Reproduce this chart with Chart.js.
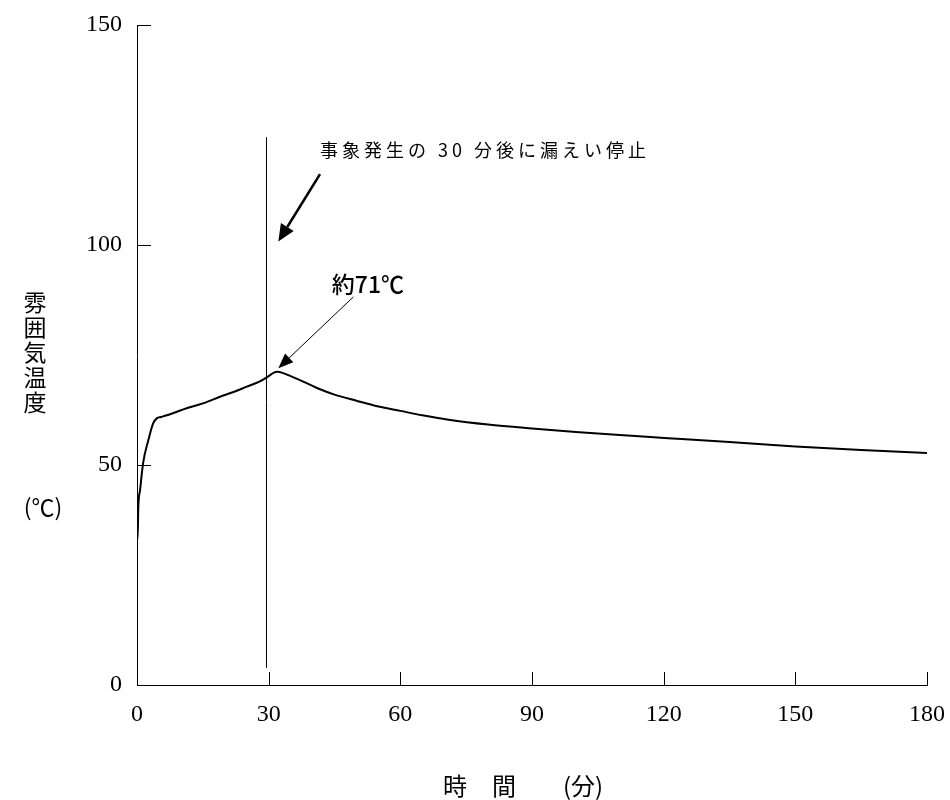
<!DOCTYPE html>
<html>
<head>
<meta charset="utf-8">
<script src="https://cdn.jsdelivr.net/npm/chart.js@4.4.1/dist/chart.umd.min.js"></script>
<style>
  html, body { margin: 0; padding: 0; background: #fff; }
  canvas { display: block; }
</style>
</head>
<body>
<canvas id="c" width="950" height="800"></canvas>
<script>
// ---- data ----
const timeMin = [0, 0.1, 0.2, 0.3, 0.7, 1.4, 2.6, 3.7, 4.5, 5.5, 8, 11.3, 15, 18.9, 22, 25, 28, 30, 31, 32, 33, 35, 38, 41, 45, 50, 55, 60, 65, 71, 80, 90, 100, 110, 121, 135, 150, 165, 180];
const tempC   = [40.5, 33.2, 36, 40.5, 44.3, 50.5, 55.7, 59.5, 60.6, 60.9, 61.7, 62.9, 64, 65.5, 66.6, 67.8, 69, 70.2, 70.9, 71.2, 71, 70.2, 68.9, 67.5, 66, 64.6, 63.3, 62.3, 61.3, 60.3, 59.2, 58.3, 57.5, 56.8, 56.1, 55.2, 54.2, 53.4, 52.7];
const xTicks = [0, 30, 60, 90, 120, 150, 180];
const yTicks = [0, 50, 100, 150];
const stopLineX = [29.5, 29.5];
const stopLineY = [3.9, 124.5];
const yTitleChars = ['雰', '囲', '気', '温', '度'];
const yUnit = '(℃)';
const xTitle = ['時', '間', '(分)'];
const noteText = '事象発生の 30 分後に漏えい停止';
const peakText = '約71℃';
// annotation anchors in data units [x, y]
const noteAnchor = [41.7, 121.5];
const arrow1 = [[41.7, 116.1], [32.2, 100.8]];
const arrow2 = [[49.3, 88.2], [32.2, 72.0]];
const peakAnchor = [44.4, 89.0];

const serif = '"Liberation Serif", "DejaVu Serif", serif';
const cjk = '"Noto Sans CJK JP", "Noto Sans", sans-serif';

function arrow(ctx, x1, y1, x2, y2, lw, hl, hw) {
  const a = Math.atan2(y2 - y1, x2 - x1);
  const bx = x2 - hl * Math.cos(a), by = y2 - hl * Math.sin(a);
  ctx.save();
  ctx.strokeStyle = '#000'; ctx.fillStyle = '#000'; ctx.lineWidth = lw;
  ctx.beginPath(); ctx.moveTo(x1, y1); ctx.lineTo(bx, by); ctx.stroke();
  ctx.beginPath();
  ctx.moveTo(x2, y2);
  ctx.lineTo(bx + hw * Math.sin(a), by - hw * Math.cos(a));
  ctx.lineTo(bx - hw * Math.sin(a), by + hw * Math.cos(a));
  ctx.closePath(); ctx.fill();
  ctx.restore();
}

const decor = {
  id: 'decor',
  afterDraw(chart) {
    const ctx = chart.ctx, xs = chart.scales.x, ys = chart.scales.y;
    const X = v => xs.getPixelForValue(v), Y = v => ys.getPixelForValue(v);
    ctx.save();
    // inward tick marks
    ctx.strokeStyle = '#000'; ctx.lineWidth = 1;
    ctx.beginPath();
    yTicks.forEach(v => { if (v > 0) { const p = Math.round(Y(v)) + 0.5; ctx.moveTo(X(0), p); ctx.lineTo(X(0) + 14, p); } });
    xTicks.forEach(v => { if (v > 0) { const p = Math.round(X(v)) + 0.5; ctx.moveTo(p, Y(0)); ctx.lineTo(p, Y(0) - 13); } });
    ctx.stroke();
    // arrows
    arrow(ctx, X(arrow1[0][0]), Y(arrow1[0][1]), X(arrow1[1][0]), Y(arrow1[1][1]), 2.5, 17, 7.5);
    arrow(ctx, X(arrow2[0][0]), Y(arrow2[0][1]), X(arrow2[1][0]), Y(arrow2[1][1]), 1, 15, 6);
    // note text
    ctx.fillStyle = '#000';
    ctx.font = '18px ' + cjk;
    ctx.textBaseline = 'middle'; ctx.textAlign = 'left';
    ctx.letterSpacing = '4px';
    ctx.fillText(noteText, X(noteAnchor[0]), Y(noteAnchor[1]));
    ctx.letterSpacing = '0px';
    // peak label
    ctx.font = '500 23px ' + cjk;
    ctx.textBaseline = 'alphabetic';
    ctx.fillText(peakText, X(peakAnchor[0]), Y(peakAnchor[1]));
    // y title (vertical)
    ctx.font = '23px ' + cjk;
    ctx.textAlign = 'center'; ctx.textBaseline = 'middle';
    yTitleChars.forEach((ch, i) => ctx.fillText(ch, 35, 302 + i * 25));
    ctx.fillText(yUnit, 43, 507);
    // x title
    ctx.font = '24px ' + cjk;
    ctx.fillText(xTitle[0], 455, 786);
    ctx.fillText(xTitle[1], 504, 786);
    ctx.fillText(xTitle[2], 583, 786);
    ctx.restore();
  }
};

new Chart(document.getElementById('c'), {
  type: 'scatter',
  data: {
    datasets: [
      {
        data: timeMin.map((t, i) => ({ x: t, y: tempC[i] })),
        showLine: true, borderColor: '#000', borderWidth: 2, pointRadius: 0,
        cubicInterpolationMode: 'monotone', fill: false
      },
      {
        data: stopLineX.map((t, i) => ({ x: t, y: stopLineY[i] })),
        showLine: true, borderColor: '#000', borderWidth: 1, pointRadius: 0, fill: false
      }
    ]
  },
  options: {
    responsive: false, animation: false,
    layout: { padding: { left: 0, top: 25, right: 23, bottom: 0 } },
    plugins: { legend: { display: false }, tooltip: { enabled: false } },
    scales: {
      x: {
        type: 'linear', min: 0, max: 180,
        afterBuildTicks: s => { s.ticks = xTicks.map(v => ({ value: v })); },
        afterFit: s => { s.height = 115; s.paddingLeft = 0; s.paddingRight = 0; },
        grid: { display: false, drawTicks: false },
        border: { display: true, color: '#000', width: 1 },
        ticks: { color: '#000', font: { family: serif, size: 24 }, padding: 15, maxRotation: 0 }
      },
      y: {
        type: 'linear', min: 0, max: 150,
        afterBuildTicks: s => { s.ticks = yTicks.map(v => ({ value: v })); },
        afterFit: s => { s.width = 137; s.paddingTop = 0; s.paddingBottom = 0; },
        grid: { display: false, drawTicks: false },
        border: { display: true, color: '#000', width: 1 },
        ticks: { color: '#000', font: { family: serif, size: 24 }, padding: 15 }
      }
    }
  },
  plugins: [decor]
});
</script>
</body>
</html>
